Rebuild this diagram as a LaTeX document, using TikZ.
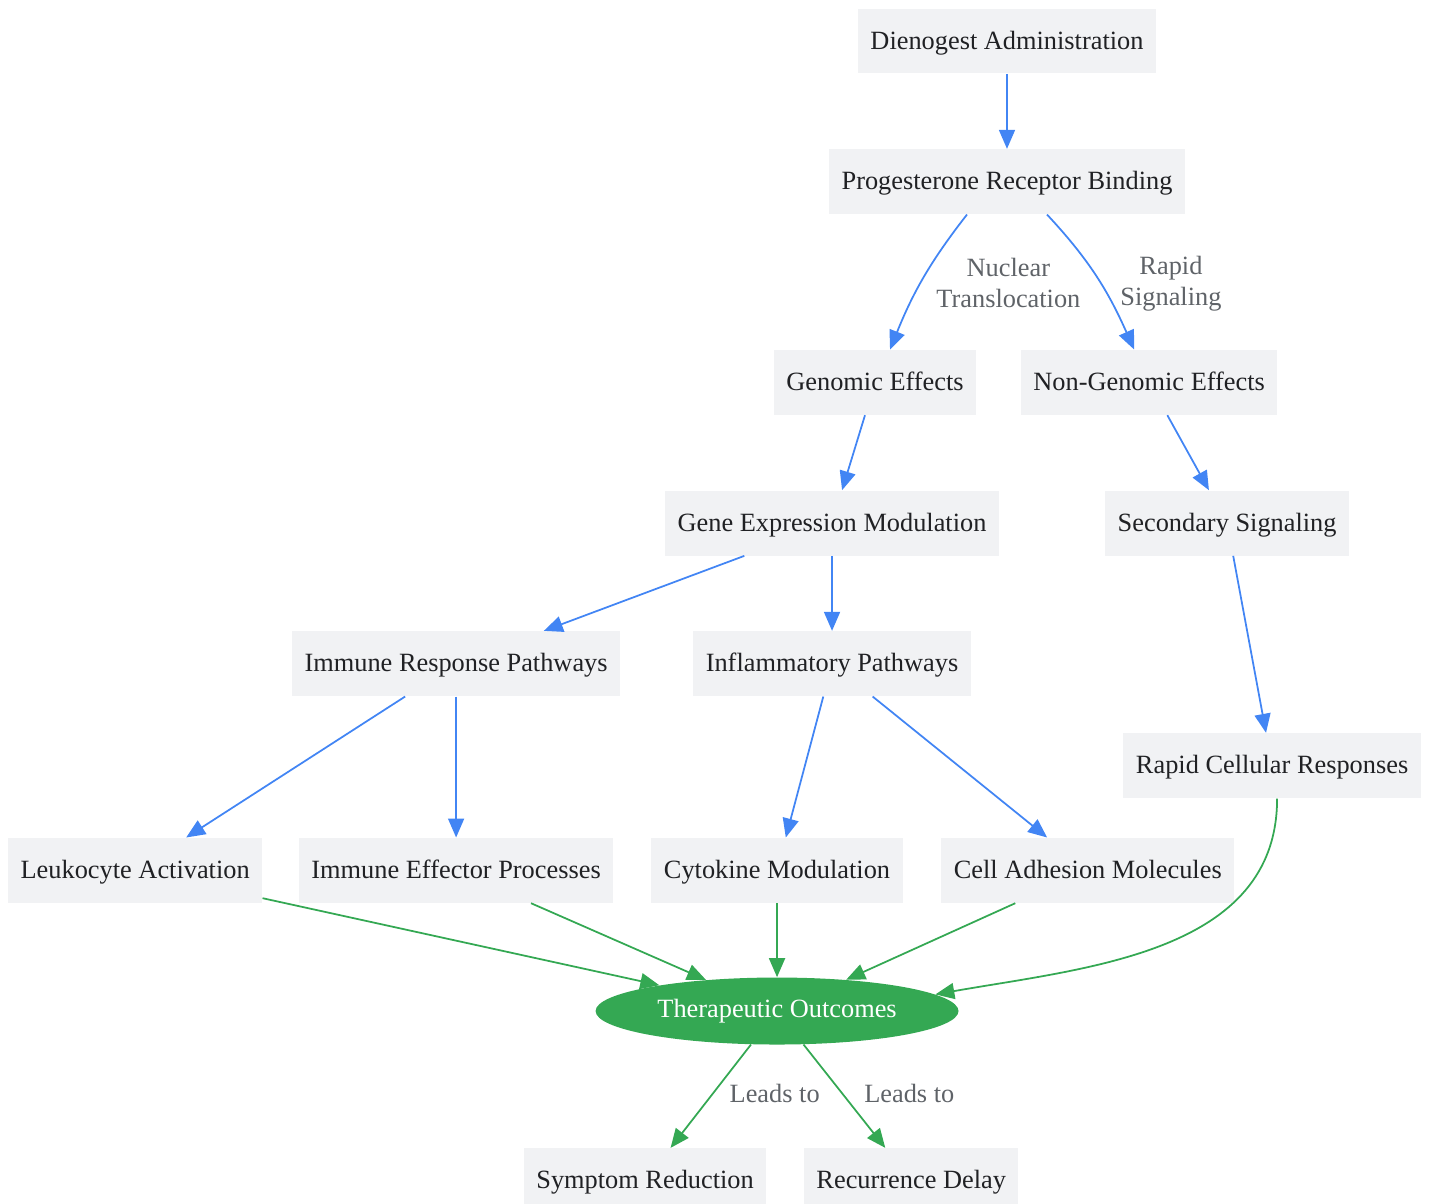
\documentclass[tikz,border=0pt]{standalone}
\usepackage{fontspec}
\setmainfont{Liberation Serif}
\usepackage{tikz}
\usetikzlibrary{positioning,shapes.geometric,arrows.meta}

\definecolor{boxfill}{HTML}{F1F2F4}
\definecolor{ink}{HTML}{202124}
\definecolor{labelgray}{HTML}{5F6368}
\definecolor{flowblue}{HTML}{4285F4}
\definecolor{leafgreen}{HTML}{34A853}

\begin{document}
\begin{tikzpicture}[
  x=0.02cm, y=-0.02cm,
  font=\fontsize{15}{17.6}\selectfont,
  box/.style={fill=boxfill, text=ink, minimum height=1.3cm, inner xsep=0.25cm, inner ysep=0pt,
    text height=12pt, text depth=2.8pt},
  outcome/.style={ellipse, fill=leafgreen, text=white, minimum width=7.26cm, minimum height=1.34cm, inner sep=0pt},
  lbl/.style={text=labelgray, align=center, inner sep=0pt},
  arrow/.style={-{Triangle[length=0.38cm,width=0.32cm]}, line width=1pt, draw=flowblue},
  garrow/.style={arrow, draw=leafgreen}
]
\useasboundingbox (0,0) rectangle (1431,1204);

% Administration and binding
\node[box] (dien) at (1007,41) {Dienogest Administration};
\node[box, below=1.5cm of dien] (prog) {Progesterone Receptor Binding};

% Two branches
\node[box, below=2.7cm of prog, xshift=-2.64cm] (gen) {Genomic Effects};
\node[box, right=0.88cm of gen] (nongen) {Non-Genomic Effects};
\node[box, below=1.5cm of gen, xshift=-0.86cm] (gexp) {Gene Expression Modulation};
\node[box, below=1.5cm of nongen, xshift=1.56cm] (sec) {Secondary Signaling};

% Pathways
\node[box, below=1.5cm of gexp, xshift=-7.52cm] (imm) {Immune Response Pathways};
\node[box, below=1.5cm of gexp] (infl) {Inflammatory Pathways};
\node[box, below=3.54cm of sec, xshift=0.9cm] (rapid) {Rapid Cellular Responses};

% Processes
\node[box, below=2.82cm of imm, xshift=-6.42cm] (leuk) {Leukocyte Activation};
\node[box, below=2.82cm of imm] (eff) {Immune Effector Processes};
\node[box, below=2.82cm of infl, xshift=-1.1cm] (cyto) {Cytokine Modulation};
\node[box, right=0.76cm of cyto] (adh) {Cell Adhesion Molecules};

% Outcomes
\node[outcome, below=1.48cm of cyto] (ther) {Therapeutic Outcomes};
\node[box, below=2.06cm of ther, xshift=-2.64cm] (symp) {Symptom Reduction};
\node[box, right=0.74cm of symp] (rec) {Recurrence Delay};

% Arrows
\draw[arrow] (dien) -- (prog);
\draw[arrow] ([xshift=-0.8cm]prog.south) to[out=-128, in=68]
  node[lbl, right=0.25cm, yshift=-0.08cm] {Nuclear\\Translocation} ([xshift=0.3cm]gen.north);
\draw[arrow] ([xshift=0.8cm]prog.south) to[out=-47, in=114]
  node[lbl, right=0.45cm, yshift=-0.12cm] {Rapid\\Signaling} ([xshift=-0.3cm]nongen.north);
\draw[arrow] (gen) -- (gexp);
\draw[arrow] (nongen) -- (sec);
\draw[arrow] (gexp) -- (imm);
\draw[arrow] (gexp) -- (infl);
\draw[arrow] (sec) -- (rapid);
\draw[arrow] (imm) -- (leuk);
\draw[arrow] (imm) -- (eff);
\draw[arrow] (infl) -- (cyto);
\draw[arrow] (infl) -- (adh);

\draw[garrow] (leuk) -- (ther);
\draw[garrow] (eff) -- (ther);
\draw[garrow] (cyto) -- (ther);
\draw[garrow] (adh) -- (ther);
\draw[garrow] ([xshift=0.1cm]rapid.south) to[out=-90, in=10] (ther.6);
\draw[garrow] (ther) -- node[lbl, right=0.36cm, yshift=0.06cm] {Leads to} (symp);
\draw[garrow] (ther) -- node[lbl, right=0.38cm, yshift=0.06cm] {Leads to} (rec);

\end{tikzpicture}
\end{document}
